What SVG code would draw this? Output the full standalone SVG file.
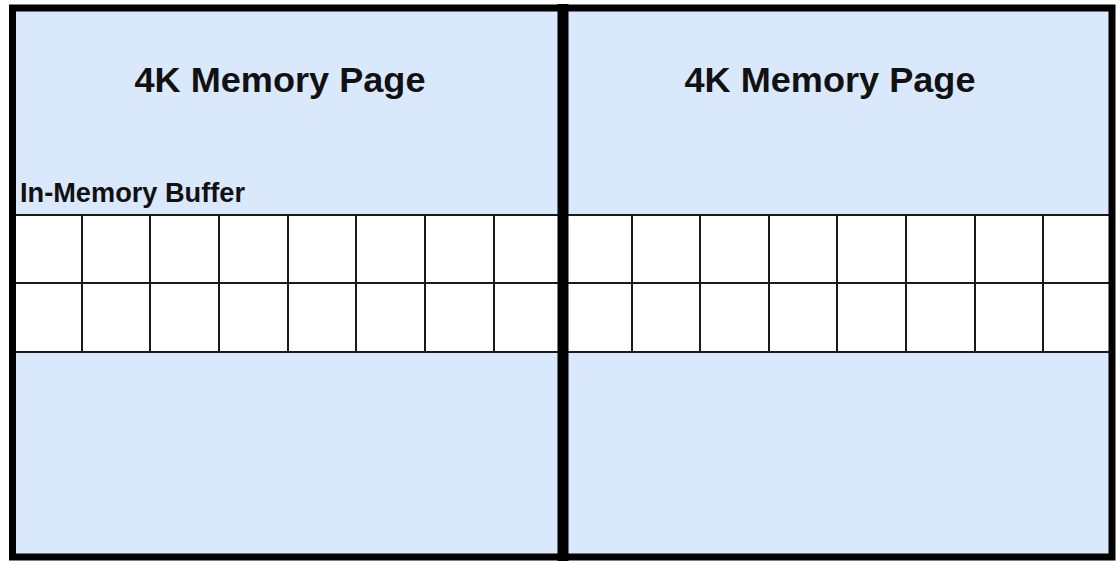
<svg xmlns="http://www.w3.org/2000/svg" width="1120" height="561" viewBox="0 0 1120 561">
<style>
.page{fill:#dae8fc;stroke:none}
.cell{fill:#ffffff;stroke:#1a1a1a;stroke-width:2}
.border{fill:none;stroke:#000000}
.title{font-family:"Liberation Sans",Arial,sans-serif;font-weight:bold;font-size:35px;fill:#111111}
.label{font-family:"Liberation Sans",Arial,sans-serif;font-weight:bold;font-size:27px;fill:#111111}
</style>
<rect width="1120" height="561" fill="#ffffff"/>
<g id="page1">
<rect class="page" x="12" y="8" width="551" height="549"/>
<text class="title" x="280" y="92" text-anchor="middle" textLength="291" lengthAdjust="spacingAndGlyphs">4K Memory Page</text>
</g>
<g id="page2">
<rect class="page" x="563" y="8" width="549" height="549"/>
<text class="title" x="830" y="92" text-anchor="middle" textLength="291" lengthAdjust="spacingAndGlyphs">4K Memory Page</text>
</g>
<g id="buffer">
<text class="label" x="20" y="202" textLength="225" lengthAdjust="spacingAndGlyphs">In-Memory Buffer</text>
<g id="row1">
<rect class="cell" x="13" y="215" width="69" height="68"/>
<rect class="cell" x="82" y="215" width="68" height="68"/>
<rect class="cell" x="150" y="215" width="69" height="68"/>
<rect class="cell" x="219" y="215" width="69" height="68"/>
<rect class="cell" x="288" y="215" width="68" height="68"/>
<rect class="cell" x="356" y="215" width="69" height="68"/>
<rect class="cell" x="425" y="215" width="69" height="68"/>
<rect class="cell" x="494" y="215" width="69" height="68"/>
<rect class="cell" x="563" y="215" width="69" height="68"/>
<rect class="cell" x="632" y="215" width="68" height="68"/>
<rect class="cell" x="700" y="215" width="69" height="68"/>
<rect class="cell" x="769" y="215" width="68" height="68"/>
<rect class="cell" x="837" y="215" width="69" height="68"/>
<rect class="cell" x="906" y="215" width="69" height="68"/>
<rect class="cell" x="975" y="215" width="68" height="68"/>
<rect class="cell" x="1043" y="215" width="69" height="68"/>
</g>
<g id="row2">
<rect class="cell" x="13" y="283" width="69" height="69"/>
<rect class="cell" x="82" y="283" width="68" height="69"/>
<rect class="cell" x="150" y="283" width="69" height="69"/>
<rect class="cell" x="219" y="283" width="69" height="69"/>
<rect class="cell" x="288" y="283" width="68" height="69"/>
<rect class="cell" x="356" y="283" width="69" height="69"/>
<rect class="cell" x="425" y="283" width="69" height="69"/>
<rect class="cell" x="494" y="283" width="69" height="69"/>
<rect class="cell" x="563" y="283" width="69" height="69"/>
<rect class="cell" x="632" y="283" width="68" height="69"/>
<rect class="cell" x="700" y="283" width="69" height="69"/>
<rect class="cell" x="769" y="283" width="68" height="69"/>
<rect class="cell" x="837" y="283" width="69" height="69"/>
<rect class="cell" x="906" y="283" width="69" height="69"/>
<rect class="cell" x="975" y="283" width="68" height="69"/>
<rect class="cell" x="1043" y="283" width="69" height="69"/>
</g>
</g>
<g id="borders">
<rect class="border" x="12.5" y="8" width="1099.5" height="549" stroke-width="7"/>
<line class="border" x1="563" y1="4" x2="563" y2="561" stroke-width="11"/>
</g>
</svg>
